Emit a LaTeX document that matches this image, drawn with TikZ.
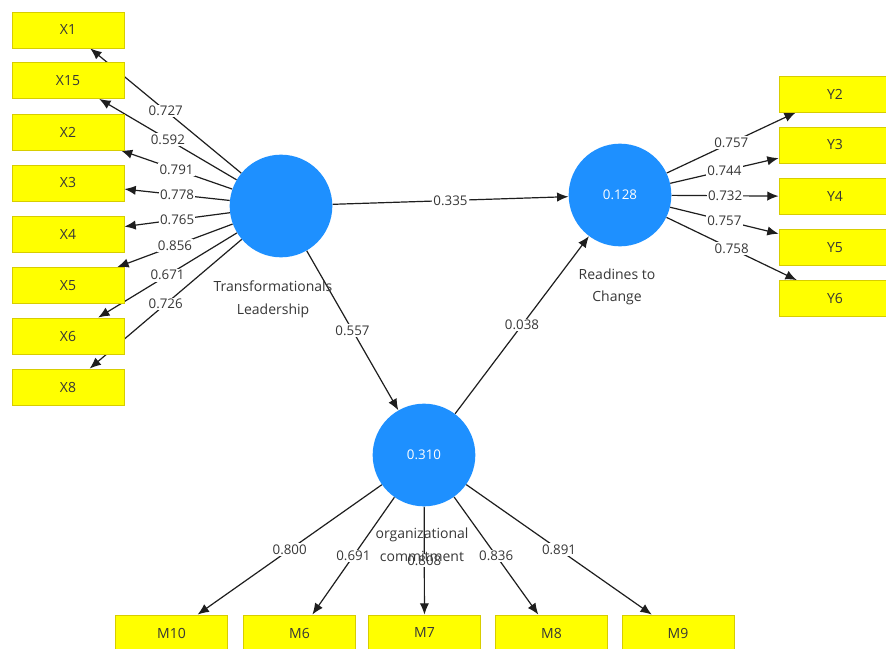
\documentclass[tikz,border=0pt]{standalone}
\usepackage{fontspec}
\setmainfont{Open Sans}
\usetikzlibrary{arrows.meta,backgrounds}
\definecolor{lvblue}{RGB}{30,144,255}
\definecolor{mvyellow}{RGB}{255,255,0}
\definecolor{mvedge}{RGB}{215,205,0}
\definecolor{linecol}{RGB}{30,30,30}
\definecolor{txtcol}{RGB}{55,55,55}
\begin{document}
\begin{tikzpicture}[x=0.75pt,y=-0.75pt,
 mvbox/.style={rectangle,fill=mvyellow,draw=mvedge,line width=0.6pt,minimum width=84pt,minimum height=27pt,inner sep=0pt,font=\fontsize{10.5}{12}\selectfont,text=txtcol},
 lv/.style={circle,fill=lvblue,minimum size=77pt,inner sep=0pt,text=white,font=\fontsize{10}{12}\selectfont},
 ld/.style={draw=linecol,line width=0.9pt,-{Latex[length=8.5pt,width=7pt]}},
 coef/.style={fill=white,inner sep=1pt,text=txtcol,font=\fontsize{10}{12}\selectfont},
 lvname/.style={align=center,text=txtcol,font=\fontsize{10.5}{17}\selectfont}]
\useasboundingbox (0,0) rectangle (886,649);
\clip (0,0) rectangle (886,649);
% latent variables
\node[lv] (TL) at (281,206) {};
\node[lv] (RC) at (620,195) {0.128};
\node[lv] (OC) at (424,455) {0.310};
% left indicators
\node[mvbox] (X1) at (68,30) {X1};
\node[mvbox] (X15) at (68,80.5) {X15};
\node[mvbox] (X2) at (68,132) {X2};
\node[mvbox] (X3) at (68,183) {X3};
\node[mvbox] (X4) at (68,234) {X4};
\node[mvbox] (X5) at (68,285.5) {X5};
\node[mvbox] (X6) at (68,336) {X6};
\node[mvbox] (X8) at (68,387) {X8};
% right indicators
\node[mvbox] (Y2) at (835,94) {Y2};
\node[mvbox] (Y3) at (835,145) {Y3};
\node[mvbox] (Y4) at (835,196.5) {Y4};
\node[mvbox] (Y5) at (835,247.5) {Y5};
\node[mvbox] (Y6) at (835,298.5) {Y6};
% bottom indicators
\node[mvbox] (M10) at (171.5,633) {M10};
\node[mvbox] (M6) at (299.5,633) {M6};
\node[mvbox] (M7) at (424.5,633) {M7};
\node[mvbox] (M8) at (551.5,633) {M8};
\node[mvbox] (M9) at (678,633) {M9};
% names
\node[lvname] (TLn) at (273,299) {Transformationals\\Leadership};
\node[lvname] (RCn) at (617,287) {Readines to\\Change};
\node[lvname] (OCn) at (422,545) {organizational\\commitment};
\begin{pgfonlayer}{background}
\fill[white] (0,0) rectangle (886,649);
\draw[ld] (TL) -- node[coef,midway]{0.727} (X1);
\draw[ld] (TL) -- node[coef,midway]{0.592} (X15);
\draw[ld] (TL) -- node[coef,midway]{0.791} (X2);
\draw[ld] (TL) -- node[coef,midway]{0.778} (X3);
\draw[ld] (TL) -- node[coef,midway]{0.765} (X4);
\draw[ld] (TL) -- node[coef,midway]{0.856} (X5);
\draw[ld] (TL) -- node[coef,midway]{0.671} (X6);
\draw[ld] (TL) -- node[coef,midway]{0.726} (X8);
\draw[ld] (RC) -- node[coef,midway]{0.757} (Y2);
\draw[ld] (RC) -- node[coef,midway]{0.744} (Y3);
\draw[ld] (RC) -- node[coef,midway]{0.732} (Y4);
\draw[ld] (RC) -- node[coef,midway]{0.757} (Y5);
\draw[ld] (RC) -- node[coef,midway]{0.758} (Y6);
\draw[ld] (OC) -- node[coef,midway]{0.800} (M10);
\draw[ld] (OC) -- node[coef,midway]{0.691} (M6);
\draw[ld] (OC) -- node[coef,midway]{0.808} (M7);
\draw[ld] (OC) -- node[coef,midway]{0.836} (M8);
\draw[ld] (OC) -- node[coef,midway]{0.891} (M9);
\draw[ld] (TL) -- node[coef,midway]{0.335} (RC);
\draw[ld] (TL) -- node[coef,midway]{0.557} (OC);
\draw[ld] (OC) -- node[coef,midway]{0.038} (RC);
\end{pgfonlayer}
\end{tikzpicture}
\end{document}
